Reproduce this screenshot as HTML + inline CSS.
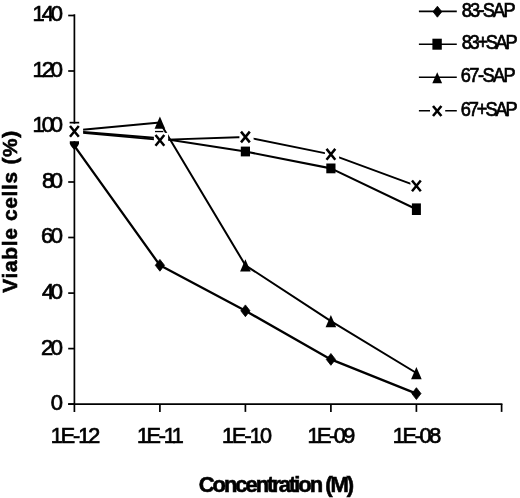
<!DOCTYPE html><html><head><meta charset="utf-8"><title>Viable cells chart</title>
<style>html,body{margin:0;padding:0;background:#fff;}body{width:520px;height:498px;overflow:hidden;}svg{display:block;}text{font-family:"Liberation Sans",Arial,sans-serif;fill:#000;}</style></head><body>
<svg xmlns="http://www.w3.org/2000/svg" width="520" height="498" viewBox="0 0 520 498">
<rect width="520" height="498" fill="#fff"/>
<g stroke="#000" stroke-width="1.7" fill="none">
<path d="M74.4 14.2V411.90000000000003"/>
<path d="M68.2 404.1H502.4"/>
<path d="M68.2 404.1H74.4"/>
<path d="M68.2 348.6H74.4"/>
<path d="M68.2 293.1H74.4"/>
<path d="M68.2 237.5H74.4"/>
<path d="M68.2 182.0H74.4"/>
<path d="M68.2 126.5H74.4"/>
<path d="M68.2 71.0H74.4"/>
<path d="M68.2 15.5H74.4"/>
<path d="M159.9 404.1V411.90000000000003"/>
<path d="M245.4 404.1V411.90000000000003"/>
<path d="M330.9 404.1V411.90000000000003"/>
<path d="M416.4 404.1V411.90000000000003"/>
<path d="M501.6 404.1V411.90000000000003"/>
</g>
<text x="50.80" y="410.0" font-size="22.0" stroke="#000" stroke-width="0.7" letter-spacing="0.00">0</text>
<text x="41.10" y="354.5" font-size="22.0" stroke="#000" stroke-width="0.7" letter-spacing="-2.54">20</text>
<text x="42.10" y="299.0" font-size="22.0" stroke="#000" stroke-width="0.7" letter-spacing="-3.54">40</text>
<text x="41.10" y="243.4" font-size="22.0" stroke="#000" stroke-width="0.7" letter-spacing="-2.54">60</text>
<text x="42.10" y="187.9" font-size="22.0" stroke="#000" stroke-width="0.7" letter-spacing="-3.54">80</text>
<text x="32.60" y="132.4" font-size="22.0" stroke="#000" stroke-width="0.7" letter-spacing="-3.14">100</text>
<text x="32.60" y="76.9" font-size="22.0" stroke="#000" stroke-width="0.7" letter-spacing="-3.14">120</text>
<text x="32.60" y="21.4" font-size="22.0" stroke="#000" stroke-width="0.7" letter-spacing="-3.14">140</text>
<text x="50.70" y="442.8" font-size="21.6" stroke="#000" stroke-width="0.7" letter-spacing="-2.03">1E-12</text>
<text x="136.90" y="442.8" font-size="21.6" stroke="#000" stroke-width="0.7" letter-spacing="-2.28">1E-11</text>
<text x="221.90" y="442.8" font-size="21.6" stroke="#000" stroke-width="0.7" letter-spacing="-1.90">1E-10</text>
<text x="307.40" y="442.8" font-size="21.6" stroke="#000" stroke-width="0.7" letter-spacing="-2.45">1E-09</text>
<text x="392.80" y="442.8" font-size="21.6" stroke="#000" stroke-width="0.7" letter-spacing="-2.28">1E-08</text>
<text x="198.70" y="491.7" font-size="22.0" font-weight="bold" stroke="#000" stroke-width="0.6" letter-spacing="-2.05">Concentration (M)</text>
<text transform="translate(461.70 16.5) scale(0.88 1)" font-size="20.7" stroke="#000" stroke-width="0.75" letter-spacing="-2.01">83-SAP</text>
<text transform="translate(461.70 49.1) scale(0.88 1)" font-size="20.7" stroke="#000" stroke-width="0.75" letter-spacing="-2.59">83+SAP</text>
<text transform="translate(460.82 82.4) scale(0.88 1)" font-size="20.7" stroke="#000" stroke-width="0.75" letter-spacing="-1.79">67-SAP</text>
<text transform="translate(460.82 115.5) scale(0.88 1)" font-size="20.7" stroke="#000" stroke-width="0.75" letter-spacing="-2.39">67+SAP</text>
<text transform="translate(17.2 292.8) rotate(-90)" x="0.00" y="0" font-size="20.8" font-weight="bold" stroke="#000" stroke-width="0.6" letter-spacing="0.73">Viable cells (%)</text>
<polyline points="74.4,145.9 159.9,265.3 245.4,310.8 330.9,359.4 416.4,393.6" fill="none" stroke="#000" stroke-width="2.3" stroke-linejoin="round"/>
<polyline points="74.4,131.2 159.9,138.2 245.4,151.5 330.9,168.4 416.4,209.2" fill="none" stroke="#000" stroke-width="2.1" stroke-linejoin="round"/>
<polyline points="74.4,130.4 159.9,122.6 245.4,265.3 330.9,321.1 416.4,373.0" fill="none" stroke="#000" stroke-width="2.0" stroke-linejoin="round"/>
<polyline points="74.4,132.1 159.9,139.8 245.4,137.0 330.9,154.3 416.4,185.9" fill="none" stroke="#000" stroke-width="1.8" stroke-linejoin="round"/>
<path d="M159.9 259.4L164.5 265.3L159.9 271.2L155.3 265.3Z" fill="#000" stroke="#000" stroke-width="0.8" stroke-linejoin="round"/>
<path d="M245.4 304.9L250.0 310.8L245.4 316.7L240.8 310.8Z" fill="#000" stroke="#000" stroke-width="0.8" stroke-linejoin="round"/>
<path d="M330.9 353.5L335.5 359.4L330.9 365.3L326.3 359.4Z" fill="#000" stroke="#000" stroke-width="0.8" stroke-linejoin="round"/>
<path d="M416.4 387.7L421.0 393.6L416.4 399.5L411.8 393.6Z" fill="#000" stroke="#000" stroke-width="0.8" stroke-linejoin="round"/>
<path d="M159.9 116.5L165.2 128.8H154.6Z" fill="#000"/>
<path d="M245.4 259.2L250.7 271.5H240.1Z" fill="#000"/>
<path d="M330.9 314.9L336.2 327.2H325.6Z" fill="#000"/>
<path d="M416.4 366.9L421.7 379.2H411.1Z" fill="#000"/>
<rect x="240.8" y="146.6" width="9.2" height="9.8" fill="#000"/>
<rect x="326.3" y="163.5" width="9.2" height="9.8" fill="#000"/>
<rect x="411.9" y="203.4" width="9.0" height="11.6" fill="#000"/>
<rect x="66" y="123.7" width="17.1" height="17.5" fill="#fff"/>
<rect x="69.6" y="121.8" width="9.6" height="1.7" fill="#000"/>
<path d="M69.8 141.2H79V143.6Q78.6 146 74.4 150Q70.2 146 69.8 143.6Z" fill="#000"/>
<path d="M70.0 126.0L78.8 136.8M78.8 126.0L70.0 136.8" stroke="#000" stroke-width="2.5" fill="none"/>
<rect x="153.9" y="132.9" width="14.2" height="15" fill="#fff"/>
<path d="M155.5 135.0L164.3 145.8M164.3 135.0L155.5 145.8" stroke="#000" stroke-width="2.5" fill="none"/>
<rect x="155" y="130.9" width="8.3" height="1.3" fill="#000"/>
<rect x="239.4" y="129.5" width="14.2" height="15" fill="#fff"/>
<path d="M241.0 131.6L249.8 142.4M249.8 131.6L241.0 142.4" stroke="#000" stroke-width="2.5" fill="none"/>
<rect x="324.9" y="146.8" width="14.2" height="15" fill="#fff"/>
<path d="M326.5 148.9L335.3 159.7M335.3 148.9L326.5 159.7" stroke="#000" stroke-width="2.5" fill="none"/>
<rect x="410.4" y="178.4" width="14.2" height="15" fill="#fff"/>
<path d="M412.0 180.5L420.8 191.3M420.8 180.5L412.0 191.3" stroke="#000" stroke-width="2.5" fill="none"/>
<path d="M418.9 11.4H456.8" stroke="#000" stroke-width="1.6"/>
<path d="M418.9 44.2H456.8" stroke="#000" stroke-width="1.6"/>
<path d="M418.9 77.3H456.8" stroke="#000" stroke-width="1.6"/>
<path d="M418.9 110.8H430M445.2 110.8H456.8" stroke="#000" stroke-width="1.6"/>
<path d="M437.4 6.2L441.8 11.7L437.4 17.2L433.0 11.7Z" fill="#000" stroke="#000" stroke-width="0.8" stroke-linejoin="round"/>
<rect x="432.4" y="38.7" width="9.4" height="11.0" fill="#000"/>
<path d="M437.2 72.2L442.1 83.3H432.3Z" fill="#000"/>
<path d="M433.0 106.0L441.4 116.0M441.4 106.0L433.0 116.0" stroke="#000" stroke-width="2.6" fill="none"/>
</svg></body></html>
